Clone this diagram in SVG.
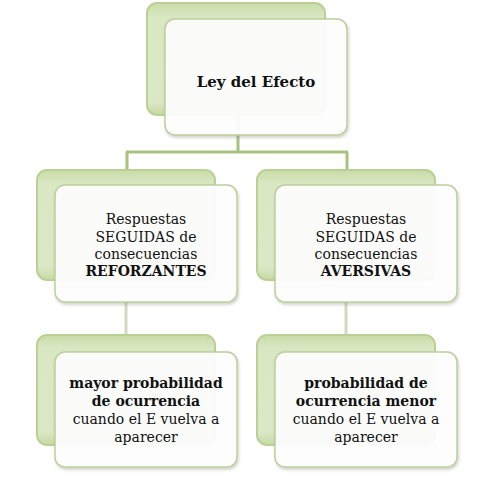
<svg xmlns="http://www.w3.org/2000/svg" width="480" height="480" viewBox="0 0 480 480">
<defs>
<linearGradient id="bgGrad" x1="0" y1="0" x2="0" y2="1">
<stop offset="0" stop-color="#c9dca8"/>
<stop offset="0.12" stop-color="#d9e7c2"/>
<stop offset="0.88" stop-color="#dbe8c6"/>
<stop offset="1" stop-color="#c6d9a3"/>
</linearGradient>
<filter id="sh" x="-10%" y="-10%" width="125%" height="125%">
<feDropShadow dx="1" dy="2" stdDeviation="1.5" flood-color="#6f7a60" flood-opacity="0.35"/>
</filter>
</defs>
<style>
.bg{fill:url(#bgGrad);stroke:#bbd095;stroke-width:2}
.fr{fill:#ffffff;fill-opacity:0.93;stroke:#bccf9c;stroke-width:1.5;filter:url(#sh)}
.t{font-family:"DejaVu Serif","Liberation Serif",serif;font-size:14px;fill:#111111;text-anchor:middle}
.b{font-weight:bold}
.c1{fill:none;stroke:#a7c27c;stroke-width:3}
.c2{fill:none;stroke:#cddcbf;stroke-width:3}
</style>
<rect width="480" height="480" fill="#ffffff"/>
<g id="connectors">
<path class="c1" d="M238,115 V152 M126,152 H348 M127,152 V171 M347,152 V171"/>
<path class="c2" d="M126,302 V336 M346,302 V336"/>
</g>
<g id="node-top">
<rect class="bg" x="147" y="3" width="178" height="112" rx="10"/>
<rect class="fr" x="165" y="19" width="182" height="116" rx="10"/>
<text class="t b" x="256" y="87" style="font-size:15px">Ley del Efecto</text>
</g>
<g id="node-reforzantes">
<rect class="bg" x="37" y="170" width="178" height="110" rx="10"/>
<rect class="fr" x="55" y="185" width="182" height="117" rx="10"/>
<text class="t" x="146" y="224">Respuestas</text>
<text class="t" x="146" y="241.5">SEGUIDAS de</text>
<text class="t" x="146" y="258.5">consecuencias</text>
<text class="t b" x="146" y="275.5">REFORZANTES</text>
</g>
<g id="node-aversivas">
<rect class="bg" x="257" y="170" width="178" height="110" rx="10"/>
<rect class="fr" x="275" y="185" width="182" height="117" rx="10"/>
<text class="t" x="366" y="224">Respuestas</text>
<text class="t" x="366" y="241.5">SEGUIDAS de</text>
<text class="t" x="366" y="258.5">consecuencias</text>
<text class="t b" x="366" y="275.5">AVERSIVAS</text>
</g>
<g id="node-mayor">
<rect class="bg" x="37" y="335" width="178" height="110" rx="10"/>
<rect class="fr" x="55" y="352" width="182" height="115" rx="10"/>
<text class="t b" x="146" y="388">mayor probabilidad</text>
<text class="t b" x="146" y="406">de ocurrencia</text>
<text class="t" x="146" y="424">cuando el E vuelva a</text>
<text class="t" x="146" y="442">aparecer</text>
</g>
<g id="node-menor">
<rect class="bg" x="257" y="335" width="178" height="110" rx="10"/>
<rect class="fr" x="275" y="352" width="182" height="115" rx="10"/>
<text class="t b" x="366" y="388">probabilidad de</text>
<text class="t b" x="366" y="406">ocurrencia menor</text>
<text class="t" x="366" y="424">cuando el E vuelva a</text>
<text class="t" x="366" y="442">aparecer</text>
</g>
</svg>
